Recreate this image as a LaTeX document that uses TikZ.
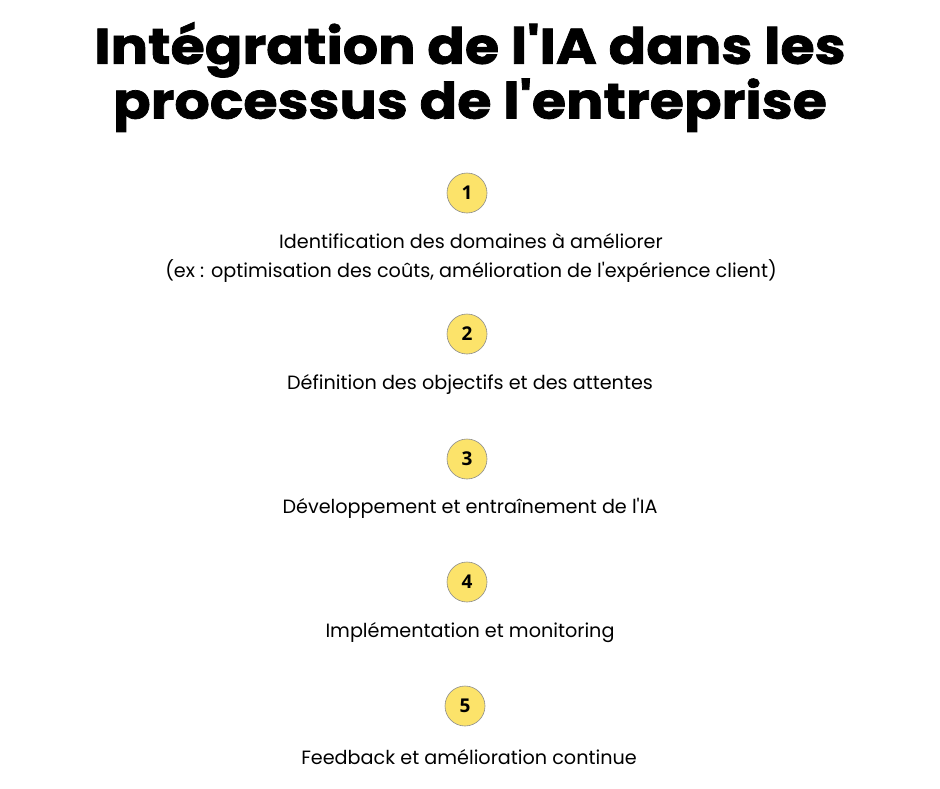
\documentclass[tikz,border=0pt]{standalone}
\usepackage{fontspec}
\newfontfamily\bodyfont{Poppins}
\newfontfamily\titlefont{Poppins}[UprightFont=* Bold, FakeStretch=1.11, FakeBold=1.5]
\newfontfamily\numfont{Open Sans}[UprightFont=* Bold]
\definecolor{circfill}{HTML}{FCE36A}
\definecolor{circline}{HTML}{8C8C8C}
\tikzset{
  stepcirc/.style={circle, fill=circfill, draw=circline, line width=0.6pt, minimum size=40pt, inner sep=0pt, font=\numfont\fontsize{19}{19}\selectfont},
  steptext/.style={align=center, font=\bodyfont\fontsize{19.2}{29}\selectfont, inner sep=0pt},
  titletext/.style={align=center, font=\titlefont\fontsize{50}{53}\selectfont, inner sep=0pt}
}
\begin{document}
\begin{tikzpicture}[x=1pt,y=-1pt]
\useasboundingbox (0,0) rectangle (940,788);
\fill[white] (0,0) rectangle (940,788);
\node[titletext] (title) at (470,77) {Intégration de l'IA dans les\\processus de l'entreprise};
\node[stepcirc] (c1) at (467,193) {1};
\node[steptext] (t1) at (471,258) {Identification des domaines à améliorer\\(ex : optimisation des coûts, amélioration de l'expérience client)};
\node[stepcirc] (c2) at (467,334) {2};
\node[steptext] (t2) at (470,384) {Définition des objectifs et des attentes};
\node[stepcirc] (c3) at (467,459) {3};
\node[steptext] (t3) at (470,508) {Développement et entraînement de l'IA};
\node[stepcirc] (c4) at (467,582) {4};
\node[steptext] (t4) at (470,633) {Implémentation et monitoring};
\node[stepcirc] (c5) at (465,706) {5};
\node[steptext] (t5) at (469,757) {Feedback et amélioration continue};
\end{tikzpicture}
\end{document}
